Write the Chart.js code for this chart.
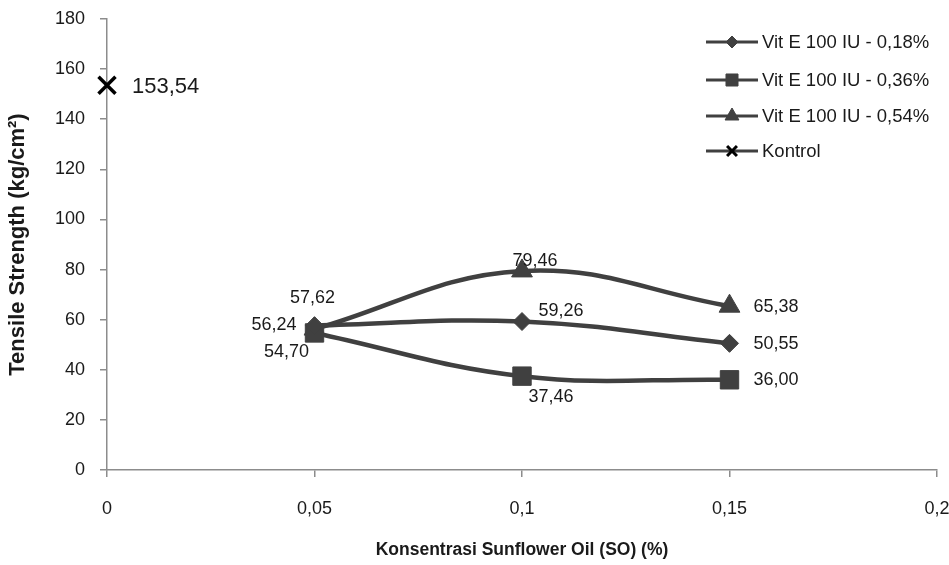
<!DOCTYPE html>
<html>
<head>
<meta charset="utf-8">
<script src="https://cdn.jsdelivr.net/npm/chart.js@4/dist/chart.umd.min.js"></script>
<style>
  body { margin: 0; background: #fff; }
</style>
</head>
<body>
<canvas id="myChart" width="949" height="565"></canvas>
<script>
// data
const concentrations = [0.05, 0.1, 0.15];
const vitE018 = [57.62, 59.26, 50.55];
const vitE036 = [54.70, 37.46, 36.00];
const vitE054 = [56.24, 79.46, 65.38];
const kontrolX = [0];
const kontrolY = [153.54];
const seriesNames = ['Vit E 100 IU - 0,18%', 'Vit E 100 IU - 0,36%', 'Vit E 100 IU - 0,54%', 'Kontrol'];
const xTicks = [0, 0.05, 0.1, 0.15, 0.2];
const yTicks = [0, 20, 40, 60, 80, 100, 120, 140, 160, 180];

const grey = '#404040';
const font = 'Liberation Sans, Arial, sans-serif';

function pts(xs, ys) {
  return xs.map((x, i) => ({ x: x, y: ys[i] }));
}
function fmt(v) {
  return v.toFixed(2).replace('.', ',');
}

// where each value label sits, relative to its point: [dx, dy, align]
const labelPos = [
  [[-2, -28, 'center'], [39, -10, 'center'], [24, 1, 'left']],
  [[-28, 19, 'center'], [29, 21, 'center'], [24, 0, 'left']],
  [[-18, -4, 'right'], [13, -10, 'center'], [24, 1, 'left']],
  [[25, 2, 'left']]
];

const valueLabels = {
  id: 'valueLabels',
  afterDatasetsDraw(chart) {
    const ctx = chart.ctx;
    ctx.save();
    ctx.fillStyle = '#1a1a1a';
    ctx.textBaseline = 'middle';
    chart.data.datasets.forEach((ds, di) => {
      const meta = chart.getDatasetMeta(di);
      meta.data.forEach((el, i) => {
        const p = labelPos[di][i];
        ctx.font = (di == 3 ? '22px ' : '18px ') + font;
        ctx.textAlign = p[2];
        ctx.fillText(fmt(ds.data[i].y), el.x + p[0], el.y + p[1]);
      });
    });
    ctx.restore();
  }
};

// legend drawn by hand: line with marker in the middle
const lineLegend = {
  id: 'lineLegend',
  afterDraw(chart) {
    const ctx = chart.ctx;
    const rows = [42, 80, 116, 151];
    const marks = [
      { pointStyle: 'rectRot', radius: 6, borderWidth: 1, color: grey },
      { pointStyle: 'rect', radius: 8.5, borderWidth: 1, color: grey },
      { pointStyle: 'triangle', radius: 8, borderWidth: 1, color: grey },
      { pointStyle: 'crossRot', radius: 7, borderWidth: 3, color: '#000' }
    ];
    ctx.save();
    rows.forEach((y, i) => {
      ctx.strokeStyle = grey;
      ctx.lineWidth = 3;
      ctx.beginPath();
      ctx.moveTo(706, y);
      ctx.lineTo(758, y);
      ctx.stroke();
      ctx.fillStyle = marks[i].color;
      ctx.strokeStyle = marks[i].color;
      ctx.lineWidth = marks[i].borderWidth;
      Chart.helpers.drawPoint(ctx, { pointStyle: marks[i].pointStyle, radius: marks[i].radius, rotation: 0, borderWidth: marks[i].borderWidth }, 732, y);
      ctx.fillStyle = '#1a1a1a';
      ctx.font = '18.5px ' + font;
      ctx.textAlign = 'left';
      ctx.textBaseline = 'middle';
      ctx.fillText(seriesNames[i], 762, y + 1);
    });
    ctx.restore();
  }
};

function lineSet(label, ys, style, radius) {
  return {
    label: label,
    data: pts(concentrations, ys),
    borderColor: grey,
    backgroundColor: grey,
    borderWidth: 4.5,
    tension: 0.4,
    pointStyle: style,
    pointRadius: radius,
    pointBorderWidth: 1,
    pointBackgroundColor: grey,
    pointBorderColor: grey
  };
}

function noPad(s) {
  s.paddingLeft = 0;
  s.paddingRight = 0;
  s.paddingTop = 0;
  s.paddingBottom = 0;
}

new Chart(document.getElementById('myChart'), {
  type: 'line',
  data: {
    datasets: [
      lineSet(seriesNames[0], vitE018, 'rectRot', 9),
      lineSet(seriesNames[1], vitE036, 'rect', 13),
      lineSet(seriesNames[2], vitE054, 'triangle', 12),
      {
        label: seriesNames[3],
        data: pts(kontrolX, kontrolY),
        borderColor: '#000',
        showLine: false,
        clip: false,
        pointStyle: 'crossRot',
        pointRadius: 12,
        pointBorderWidth: 3.5,
        pointBorderColor: '#000'
      }
    ]
  },
  options: {
    responsive: false,
    animation: false,
    layout: { autoPadding: false, padding: { top: 19, right: 12, left: 0, bottom: 0 } },
    plugins: {
      legend: { display: false },
      tooltip: { enabled: false }
    },
    scales: {
      x: {
        type: 'linear',
        min: 0,
        max: 0.2,
        afterBuildTicks: s => { s.ticks = xTicks.map(v => ({ value: v })); },
        afterFit: s => { s.height = 95; noPad(s); },
        grid: { drawOnChartArea: false, drawTicks: true, tickLength: 7, color: '#8c8c8c', lineWidth: 1.5 },
        border: { color: '#8c8c8c', width: 1.5 },
        ticks: {
          color: '#1a1a1a',
          font: { family: font, size: 18 },
          padding: 21,
          maxRotation: 0,
          callback: v => String(Number(v.toFixed(2))).replace('.', ',')
        },
        title: {
          display: true,
          text: 'Konsentrasi Sunflower Oil (SO) (%)',
          color: '#1a1a1a',
          font: { family: font, size: 17.5, weight: 'bold' },
          padding: { top: 12 }
        }
      },
      y: {
        min: 0,
        max: 180,
        afterBuildTicks: s => { s.ticks = yTicks.map(v => ({ value: v })); },
        afterFit: s => { s.width = 107; noPad(s); },
        grid: { drawOnChartArea: false, drawTicks: true, tickLength: 7, color: '#8c8c8c', lineWidth: 1.5 },
        border: { color: '#8c8c8c', width: 1.5 },
        ticks: {
          color: '#1a1a1a',
          font: { family: font, size: 18 },
          padding: 15
        },
        title: {
          display: true,
          text: 'Tensile Strength (kg/cm²)',
          color: '#1a1a1a',
          font: { family: font, size: 22, weight: 'bold' },
          padding: { top: 5, bottom: 0 }
        }
      }
    }
  },
  plugins: [valueLabels, lineLegend]
});
</script>
</body>
</html>
